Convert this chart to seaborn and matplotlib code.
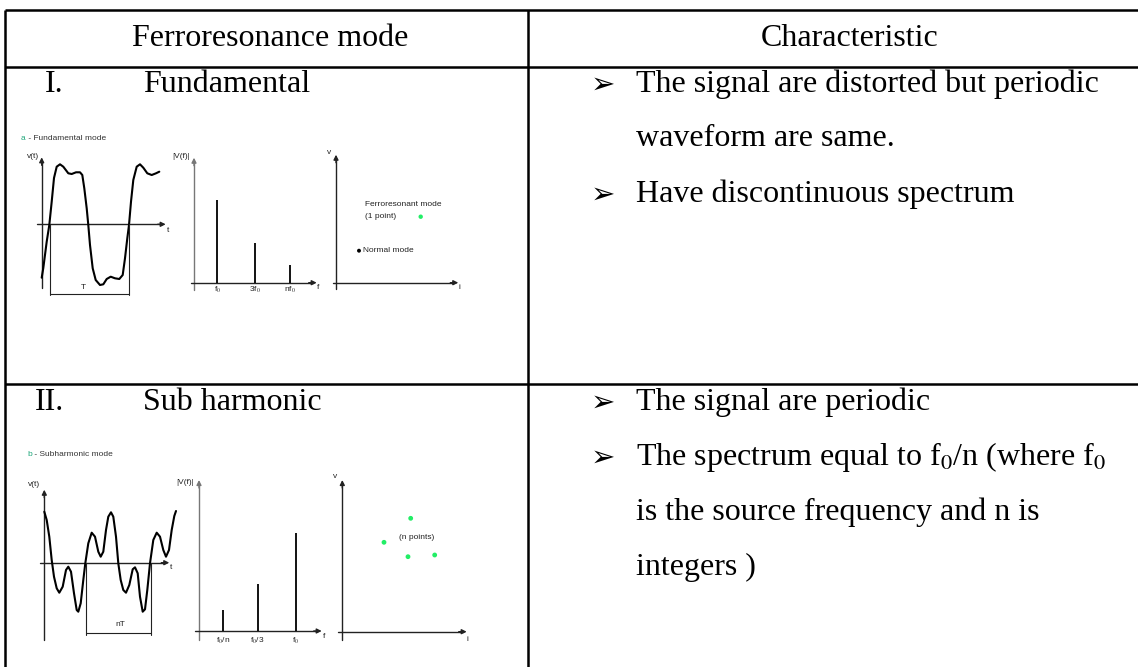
import matplotlib
matplotlib.use("Agg")
import matplotlib.pyplot as plt
import seaborn as sns
import pandas as pd

sns.set_theme(style="white")
plt.rcParams['font.family'] = ['Liberation Serif', 'DejaVu Sans']
plt.rcParams['mathtext.fontset'] = 'stix'
plt.rcParams['text.color'] = 'black'

# ---- table text ----
header_cols = ["Ferroresonance mode", "Characteristic"]
mode_numbers = ["I.", "II."]
mode_names = ["Fundamental", "Sub harmonic"]
row1_points = [["The signal are distorted but periodic", "waveform are same."],
               ["Have discontinuous spectrum"]]
row2_points = [["The signal are periodic"],
               ["The spectrum equal to f$_0$/n (where f$_0$",
                "is the source frequency and n is", "integers )"]]

# ---- diagram data (local units, origin = axis crossing, v upwards) ----
fund_t = [0, 1.6, 5, 7.6, 10, 12.3, 15, 18.3, 21.6, 26.6, 30, 34.3, 38.3, 40.6, 42.6,
          45, 46.6, 48.3, 51, 54, 58.3, 61.6, 65, 69, 73.3, 77.6, 81, 83.3, 85.6,
          87.3, 89.3, 91.6, 95, 98.3, 101.6, 105.6, 110, 114.3, 117.6]
fund_v = [-53.4, -43.7, -17.4, -0.7, 22.6, 46.3, 57.6, 60, 57.6, 51, 50.3, 52, 52, 49.3, 36,
          16, -0.7, -20.7, -44, -55.7, -60.7, -60, -54.7, -52.4, -54, -54.7, -50.7, -34, -14,
          -0.7, 22.6, 44.3, 57.6, 60, 56.6, 51, 49.3, 51, 52.6]

sub_t = [0, 2.4, 5, 7.4, 9.7, 12.4, 15, 18.4, 21.7, 24, 26.7, 29.7, 32.4, 34, 36.4, 39, 41,
         44, 47.4, 50.7, 54, 56.4, 59, 61.7, 64, 66.7, 69, 71.7, 74, 76.4, 79, 81.7, 85,
         88.4, 90.7, 93.4, 95.7, 98.4, 100.7, 103, 105.7, 109, 112.4, 115.7, 119, 121.7,
         124.7, 127.4, 130, 131.7]
sub_v = [51, 42.7, 26, 2.7, -14, -25.6, -30, -24, -7.3, -4, -9, -30.6, -47.3, -49, -40.6,
         -17.3, -0.6, 19.4, 30, 26, 11, 6, 11, 32.7, 46, 50.4, 46, 26, -0.6, -17.3, -27.3,
         -30, -22.3, -6.6, -4.6, -10.6, -34, -49, -46.6, -27.3, -0.6, 22.7, 30, 26, 12.7, 6,
         12.7, 32.7, 46.7, 51.7]

spec1_labels = ["f$_0$", "3f$_0$", "nf$_0$"]
spec1_freq = [23.3, 61, 96]
spec1_amp = [82.7, 39.4, 17.7]

spec2_labels = ["f$_0$/n", "f$_0$/3", "f$_0$"]
spec2_freq = [23.7, 58.7, 97]
spec2_amp = [21, 47, 98.3]

vi1_ferro_i = [84.7]
vi1_ferro_v = [66]
vi1_normal_i = [23]
vi1_normal_v = [32]

vi2_i = [68.4, 41.7, 65.7, 92.4]
vi2_v = [113.4, 89.4, 75, 76.7]

W, H = 1138, 667
fig = plt.figure(figsize=(W / 100, H / 100), dpi=100)
ax = fig.add_axes([0, 0, 1, 1])
ax.set_xlim(0, W)
ax.set_ylim(H, 0)
ax.axis("off")

small = ['Liberation Sans Narrow', 'Liberation Sans', 'DejaVu Sans']
ink = "#222222"
green = "#22ee66"
BODY = 23


def arrow(x0, y0, x1, y1, color=ink):
    ax.annotate("", xy=(x1, y1), xytext=(x0, y0),
                arrowprops=dict(arrowstyle="-|>", color=color, lw=1.0,
                                mutation_scale=7, shrinkA=0, shrinkB=0))


def axes_cross(ox, oy, left, right, down, up, ycolor=ink):
    # v axis and horizontal axis with arrow heads
    ax.plot([ox, ox], [oy + down, oy - up + 4], color=ycolor, lw=1.0)
    arrow(ox, oy - up + 8, ox, oy - up, ycolor)
    ax.plot([ox - left, ox + right - 4], [oy, oy], color=ink, lw=1.0)
    arrow(ox + right - 8, oy, ox + right, oy)


def stxt(x, y, s, size=6, color=ink, ha="left"):
    ax.text(x, y, s, fontsize=size, color=color, ha=ha, va="center", family=small)


# ---- table frame ----
lw_tab = 1.8
for y in [10, 66.5, 384]:
    ax.plot([5, W], [y, y], color="black", lw=lw_tab, solid_capstyle="butt")
for x in [5, 528]:
    ax.plot([x, x], [10, H], color="black", lw=lw_tab, solid_capstyle="butt")

# header
ax.text(270, 39, header_cols[0], fontsize=BODY, ha="center", va="center")
ax.text(850, 39, header_cols[1], fontsize=BODY, ha="center", va="center")

# left column row titles
row_y = [84, 402]
for yy, num, name in zip(row_y, mode_numbers, mode_names):
    ax.text(64, yy, num, fontsize=BODY, ha="right", va="center")
    ax.text(143, yy, name, fontsize=BODY, ha="left", va="center")

# right column bullet lists
line_gap = 55
for y0, items in zip(row_y, [row1_points, row2_points]):
    yy = y0
    for item in items:
        ax.text(591, yy + 1, "\u27a2", fontsize=BODY - 2, ha="left", va="center",
                family=['DejaVu Sans'])
        for line in item:
            ax.text(636, yy, line, fontsize=BODY, ha="left", va="center")
            yy += line_gap

# ---- row 1 diagrams ----
ax.text(21, 138, "a", fontsize=6, color="#1fa77a", va="center", family=small)
stxt(26, 138, " - Fundamental mode", color="#333333")

ox, oy = 41.7, 224.3
axes_cross(ox, oy, 5, 124, 64, 67)
wave = pd.DataFrame({"x": [ox + t for t in fund_t], "y": [oy - v for v in fund_v]})
sns.lineplot(data=wave, x="x", y="y", sort=False, estimator=None, color="black",
             lw=1.5, ax=ax)
ax.plot([ox + 8.3, ox + 8.3], [oy, oy + 71], color=ink, lw=0.8)
ax.plot([ox + 87.3, ox + 87.3], [oy, oy + 71], color=ink, lw=0.8)
ax.plot([ox + 8.3, ox + 87.3], [oy + 70, oy + 70], color=ink, lw=0.8)
stxt(ox + 41.6, oy + 63, "T", ha="center")
stxt(27, 156, "v(t)")
stxt(ox + 125, oy + 6, "t")

ox, oy = 194, 282.7
axes_cross(ox, oy, 2.5, 122.7, 7, 125, ycolor="#777777")
ax.vlines([ox + f for f in spec1_freq], oy, [oy - a for a in spec1_amp],
          color="black", lw=1.3)
for f, lab in zip(spec1_freq, spec1_labels):
    stxt(ox + f, oy + 7, lab, ha="center")
stxt(172, 157, "|V(f)|")
stxt(ox + 123, oy + 5, "f")

ox, oy = 336, 282.7
axes_cross(ox, oy, 3.3, 122.3, 6, 128)
stxt(327, 152, "v")
stxt(ox + 123, oy + 5, "i")
sns.scatterplot(x=[ox + i for i in vi1_ferro_i], y=[oy - v for v in vi1_ferro_v],
                color=green, s=10, edgecolor="none", ax=ax)
sns.scatterplot(x=[ox + i for i in vi1_normal_i], y=[oy - v for v in vi1_normal_v],
                color="black", s=8, edgecolor="none", ax=ax)
stxt(365, 204, "Ferroresonant mode")
stxt(365, 216, "(1 point)")
stxt(ox + 27.5, oy - 32, "Normal mode")

# ---- row 2 diagrams ----
ax.text(27, 455, "b", fontsize=6, color="#1fa77a", va="center", family=small)
stxt(32, 455, " - Subharmonic mode", color="#333333")

ox, oy = 44.3, 562.7
axes_cross(ox, oy, 4.3, 125, 77, 73)
wave2 = pd.DataFrame({"x": [ox + t for t in sub_t], "y": [oy - v for v in sub_v]})
sns.lineplot(data=wave2, x="x", y="y", sort=False, estimator=None, color="black",
             lw=1.5, ax=ax)
ax.plot([ox + 41.4, ox + 41.4], [oy, oy + 72], color=ink, lw=0.8)
ax.plot([ox + 106.4, ox + 106.4], [oy, oy + 72], color=ink, lw=0.8)
ax.plot([ox + 41.4, ox + 106.4], [oy + 70, oy + 70], color=ink, lw=0.8)
stxt(ox + 75.7, oy + 61.6, "nT", ha="center")
stxt(28, 484, "v(t)")
stxt(ox + 126, oy + 5, "t")

ox, oy = 199, 631
axes_cross(ox, oy, 4, 122.7, 9, 151, ycolor="#777777")
ax.vlines([ox + f for f in spec2_freq], oy, [oy - a for a in spec2_amp],
          color="black", lw=1.3)
for f, lab in zip(spec2_freq, spec2_labels):
    stxt(ox + f, oy + 9.5, lab, ha="center")
stxt(176, 483, "|V(f)|")
stxt(ox + 124, oy + 6, "f")

ox, oy = 342.3, 631.7
axes_cross(ox, oy, 4, 124.4, 8.3, 151.7)
stxt(333, 476, "v")
stxt(ox + 124.5, oy + 8, "i")
sns.scatterplot(x=[ox + i for i in vi2_i], y=[oy - v for v in vi2_v],
                color=green, s=12, edgecolor="none", ax=ax)
stxt(ox + 57, oy - 94.4, "(n points)")

ax.set_xlim(0, W)
ax.set_ylim(H, 0)
fig.savefig("out.png", dpi=100, facecolor="white")
